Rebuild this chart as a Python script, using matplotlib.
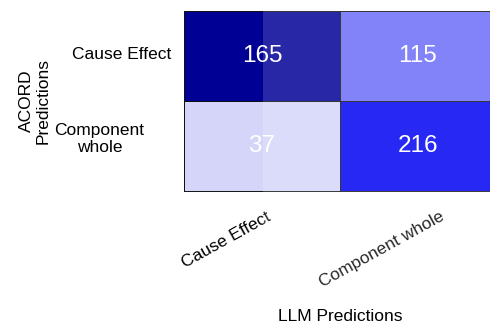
import matplotlib.pyplot as plt
import numpy as np
from matplotlib.colors import LinearSegmentedColormap
from matplotlib.patches import Rectangle
from matplotlib.transforms import ScaledTranslation

plt.rcParams['font.family'] = ['Liberation Sans', 'DejaVu Sans']

acord_labels = ['Cause Effect', 'Component\nwhole']
llm_labels = ['Cause Effect', 'Component whole']
counts = np.array([[165, 115],
                   [37, 216]])

# colour by share of each LLM column
share = counts / counts.sum(axis=0, keepdims=True)

cmap = LinearSegmentedColormap.from_list('bluecm', [
    (0.0, '#ffffff'), (0.183, '#d4d4fa'), (0.347, '#6b6bf9'),
    (0.653, '#0000f3'), (0.817, '#000096'), (1.0, '#000060')])

fig = plt.figure(figsize=(4.9, 3.25), dpi=100)
ax = fig.add_axes([184 / 490, 1 - 191 / 325, 312 / 490, 180 / 325])

ax.pcolormesh(share, cmap=cmap, vmin=0, vmax=1,
              edgecolors='#111111', linewidth=0.7)
ax.set_xlim(0, 2)
ax.set_ylim(2, 0)

for i in range(2):
    for j in range(2):
        ax.text(j + 0.5, i + 0.5, str(counts[i, j]), ha='center', va='center',
                color='white', fontsize=17.5)

for s in ax.spines.values():
    s.set_color('#111111')
    s.set_linewidth(0.7)

ax.set_xticks([0.5, 1.5])
ax.set_yticks([0.5, 1.5])
ax.set_xticklabels(llm_labels, rotation=29, ha='center', va='top', fontsize=12.5)
ax.set_yticklabels(acord_labels, fontsize=12.5, multialignment='center')
ax.tick_params(length=0)
ax.tick_params(axis='x', pad=13)
ax.tick_params(axis='y', pad=9)

for lab in ax.get_xticklabels():
    lab.set_transform(lab.get_transform() + ScaledTranslation(-0.36, 0, fig.dpi_scale_trans))
ylabs = ax.get_yticklabels()
ylabs[0].set_transform(ylabs[0].get_transform() + ScaledTranslation(0, 0.03, fig.dpi_scale_trans))
ylabs[1].set_transform(ylabs[1].get_transform() + ScaledTranslation(-0.27, 0.10, fig.dpi_scale_trans))

ax.set_xlabel('LLM Predictions', fontsize=12.5)
ax.xaxis.set_label_coords(0.5, -0.655)
ax.set_ylabel('ACORD\nPredictions', fontsize=12.5)
ax.yaxis.set_label_coords(-133 / 312, 0.5)

# light wash over the right part of the page
fig.patches.append(Rectangle((263 / 490, 28 / 325), 1, 1, transform=fig.transFigure,
                             facecolor='white', alpha=0.16, edgecolor='none', zorder=10))

fig.savefig('out.png', dpi=100)
